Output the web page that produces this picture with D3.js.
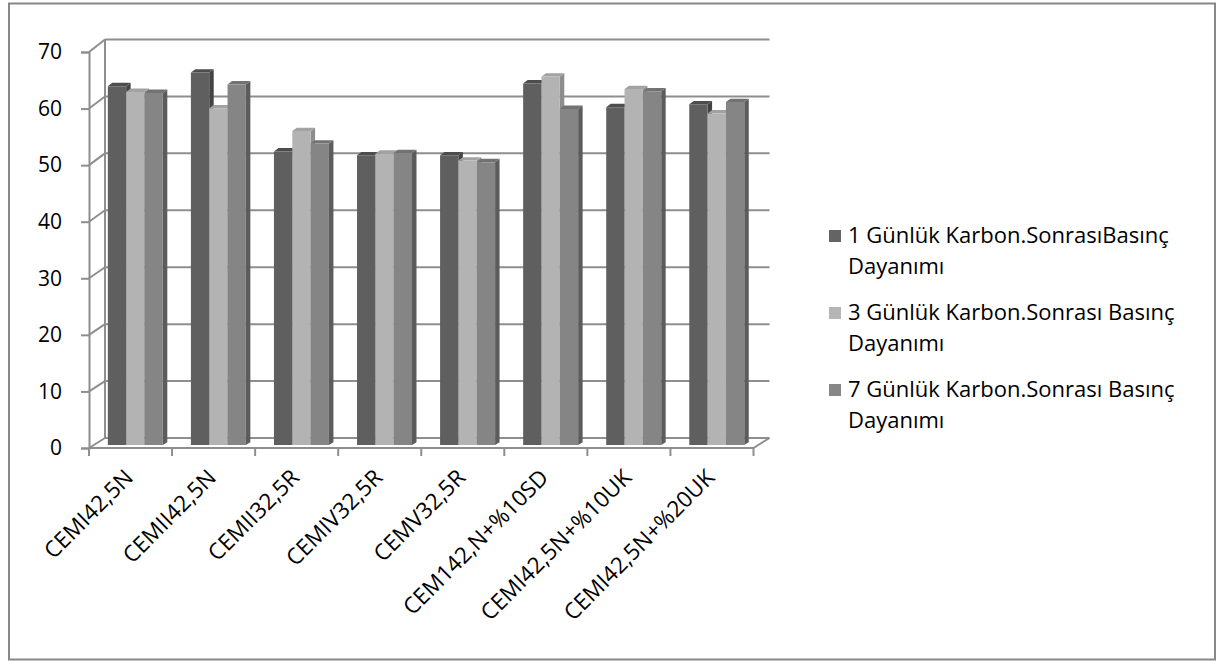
<!DOCTYPE html>
<html>
<head>
<meta charset="utf-8">
<script src="https://cdn.jsdelivr.net/npm/d3@7"></script>
<style>
  html, body { margin: 0; padding: 0; background: #fff; }
  svg { display: block; }
  text { font-family: "Open Sans", Lato, sans-serif; fill: #000; }
</style>
</head>
<body>
<svg id="chart" width="1217" height="661"></svg>
<script>
// Compressive strength after carbonation, per cement type
const categories = [
  "CEMI42,5N", "CEMII42,5N", "CEMII32,5R", "CEMIV32,5R",
  "CEMV32,5R", "CEM142,N+%10SD", "CEMI42,5N+%10UK", "CEMI42,5N+%20UK"
];
const seriesNames = [
  "1 Günlük Karbon.SonrasıBasınç Dayanımı",
  "3 Günlük Karbon.Sonrası Basınç Dayanımı",
  "7 Günlük Karbon.Sonrası Basınç Dayanımı"
];
const day1 = [63.3, 65.7, 51.8, 51.1, 51.1, 63.8, 59.6, 60.1];
const day3 = [62.3, 59.4, 55.4, 51.4, 50.2, 65.0, 62.8, 58.5];
const day7 = [62.1, 63.6, 53.2, 51.5, 49.9, 59.3, 62.4, 60.5];
const yTickValues = [0, 10, 20, 30, 40, 50, 60, 70];

const seriesValues = [day1, day3, day7];
const frontColors = ["#5f5f5f", "#b3b3b3", "#858585"];
const topColors   = ["#4d4d4d", "#a2a2a2", "#727272"];
const sideColors  = ["#444444", "#8d8d8d", "#5c5c5c"];
const legendColors = ["#646464", "#b5b5b5", "#878787"];

const svg = d3.select("#chart");
const gridColor = "#8e8e8e";

// Outer chart frame
svg.append("rect")
  .attr("x", 9).attr("y", 3.5).attr("width", 1206).attr("height", 656)
  .attr("fill", "#fff").attr("stroke", "#878787").attr("stroke-width", 2);

// Oblique 3D projection: front plane (depth 0) and back wall (depth 1)
const yFront = d3.scaleLinear().domain([0, 70]).range([448, 52]);
const yBack  = d3.scaleLinear().domain([0, 70]).range([438, 39.5]);
const xFront = d3.scaleBand().domain(categories).range([89, 753.5]);
const depthDX = 16;

function proj(x, v, t) {
  return [x + t * depthDX, yFront(v) + t * (yBack(v) - yFront(v))];
}

const walls = svg.append("g").attr("fill", "none")
  .attr("stroke", gridColor).attr("stroke-width", 2);

// Back-wall gridlines
yTickValues.forEach(v => {
  const a = proj(89, v, 1), b = proj(753.5, v, 1);
  walls.append("line").attr("x1", a[0]).attr("y1", a[1]).attr("x2", b[0]).attr("y2", b[1]);
});
// Back-wall left edge
walls.append("line")
  .attr("x1", proj(89, 0, 1)[0]).attr("y1", proj(89, 0, 1)[1])
  .attr("x2", proj(89, 70, 1)[0]).attr("y2", proj(89, 70, 1)[1]);
// Side-wall diagonals
yTickValues.forEach(v => {
  const a = proj(89, v, 0), b = proj(89, v, 1);
  walls.append("line").attr("x1", a[0]).attr("y1", a[1]).attr("x2", b[0]).attr("y2", b[1]);
});
// Floor outline
{
  const p0 = proj(89, 0, 0), p1 = proj(753.5, 0, 0), p2 = proj(753.5, 0, 1);
  walls.append("path").attr("d", `M${p0}L${p1}L${p2}`);
}

// Y axis (front edge) with ticks
const yAxis = d3.axisLeft(yFront).tickValues(yTickValues).tickSize(8).tickPadding(6);
const gy = svg.append("g").attr("transform", "translate(89,0)").call(yAxis);
gy.select(".domain").attr("stroke", gridColor).attr("stroke-width", 2);
gy.selectAll(".tick line").attr("stroke", gridColor).attr("stroke-width", 2);
gy.selectAll(".tick text")
  .style("font-family", "'Open Sans', sans-serif").style("font-size", "21px").attr("fill", "#000")
  .attr("x", -27);

// X axis ticks at category boundaries
const boundaries = categories.map(c => xFront(c)).concat([xFront.range()[1]]);
svg.append("g").selectAll("line").data(boundaries).join("line")
  .attr("x1", d => d).attr("x2", d => d)
  .attr("y1", 448).attr("y2", 456)
  .attr("stroke", gridColor).attr("stroke-width", 2);

// Bars
const t0 = 0.3, t1 = 0.58;
const groupW = xFront.bandwidth() * 0.662;
const xInner = d3.scaleBand().domain([0, 1, 2]).range([0, groupW]);
const bars = svg.append("g");
categories.forEach((cat, ci) => {
  const gx = xFront(cat) + (xFront.bandwidth() - groupW) / 2;
  seriesValues.forEach((vals, si) => {
    const v = vals[ci];
    const xa = gx + xInner(si), xb = xa + xInner.bandwidth();
    const fTL = proj(xa, v, t0), fTR = proj(xb, v, t0);
    const fBL = proj(xa, 0, t0), fBR = proj(xb, 0, t0);
    const bTL = proj(xa, v, t1), bTR = proj(xb, v, t1), bBR = proj(xb, 0, t1);
    const g = bars.append("g");
    g.append("path").attr("d", `M${fTR}L${bTR}L${bBR}L${fBR}Z`).attr("fill", sideColors[si]);
    g.append("path").attr("d", `M${fTL}L${fTR}L${bTR}L${bTL}Z`).attr("fill", topColors[si]);
    g.append("path").attr("d", `M${fTL}L${fTR}L${fBR}L${fBL}Z`).attr("fill", frontColors[si]);
  });
});

// Category labels, rotated
svg.append("g").selectAll("text").data(categories).join("text")
  .attr("transform", d => `translate(${xFront(d) + xFront.bandwidth() / 2 + 4},${479}) rotate(-45)`)
  .attr("text-anchor", "end")
  .style("font-size", "22.5px")
  .text(d => d);

// Legend
const legend = svg.append("g");
const legendBaselines = [243, 320, 397];
seriesNames.forEach((name, i) => {
  const idx = name.indexOf(" Dayanımı");
  const line1 = name.slice(0, idx), line2 = name.slice(idx + 1);
  const base = legendBaselines[i];
  legend.append("rect")
    .attr("x", 829).attr("y", base - 13).attr("width", 12).attr("height", 12)
    .attr("fill", legendColors[i]);
  const t = legend.append("text").attr("x", 848).attr("y", base).style("font-size", "22px");
  t.append("tspan").attr("x", 848).text(line1);
  t.append("tspan").attr("x", 848).attr("dy", 31).text(line2);
});
</script>
</body>
</html>
